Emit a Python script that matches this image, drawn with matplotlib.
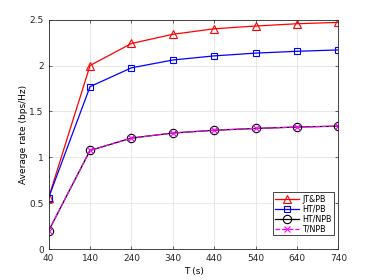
import numpy as np
import matplotlib
matplotlib.use('Agg')
import matplotlib.pyplot as plt

T = [40, 140, 240, 340, 440, 540, 640, 740]
jt_pb = [0.56, 2.00, 2.24, 2.34, 2.40, 2.43, 2.455, 2.47]
ht_pb = [0.56, 1.77, 1.975, 2.06, 2.105, 2.135, 2.155, 2.17]
ht_npb = [0.20, 1.075, 1.21, 1.265, 1.295, 1.315, 1.33, 1.34]
t_npb = [0.20, 1.075, 1.21, 1.265, 1.295, 1.315, 1.33, 1.34]

plt.rcParams.update({
    'font.family': 'DejaVu Sans',
    'font.size': 6.5,
    'axes.linewidth': 0.6,
    'axes.edgecolor': '#262626',
    'xtick.color': '#262626',
    'ytick.color': '#262626',
    'xtick.direction': 'in',
    'ytick.direction': 'in',
})

fig = plt.figure(figsize=(3.74, 2.8), dpi=100)
ax = fig.add_axes([0.13, 0.11, 0.775, 0.82])

ax.plot(T, jt_pb, '-^', color='red', lw=0.9, ms=6, mfc='none', mew=0.8, label='JT&PB')
ax.plot(T, ht_pb, '-s', color='blue', lw=0.9, ms=5, mfc='none', mew=0.8, label='HT/PB')
ax.plot(T, ht_npb, '-o', color='black', lw=0.9, ms=6, mfc='none', mew=0.8, label='HT/NPB')
ax.plot(T, t_npb, '--x', color='magenta', lw=0.9, ms=4, mew=0.8, label='T/NPB')

ax.set_xlim(40, 740)
ax.set_ylim(0, 2.5)
ax.set_xticks(T)
ax.set_yticks([0, 0.5, 1, 1.5, 2, 2.5])
ax.set_yticklabels(['0', '0.5', '1', '1.5', '2', '2.5'])
ax.tick_params(length=2.5, width=0.5, right=True, top=True, pad=3.5)
ax.grid(True, color='#dedede', lw=0.5)
ax.set_axisbelow(True)
ax.set_xlabel('T (s)', labelpad=2.5)
ax.set_ylabel('Average rate (bps/Hz)', labelpad=1)

leg = ax.legend(loc='lower right', bbox_to_anchor=(0.983, 0.06),
                fancybox=False, edgecolor='#262626',
                framealpha=1, fontsize=5.8, handlelength=3.0, borderpad=0.25,
                labelspacing=0.12, handletextpad=0.35, borderaxespad=0.0)
leg.get_frame().set_linewidth(0.6)

fig.savefig('out.png', dpi=100)
